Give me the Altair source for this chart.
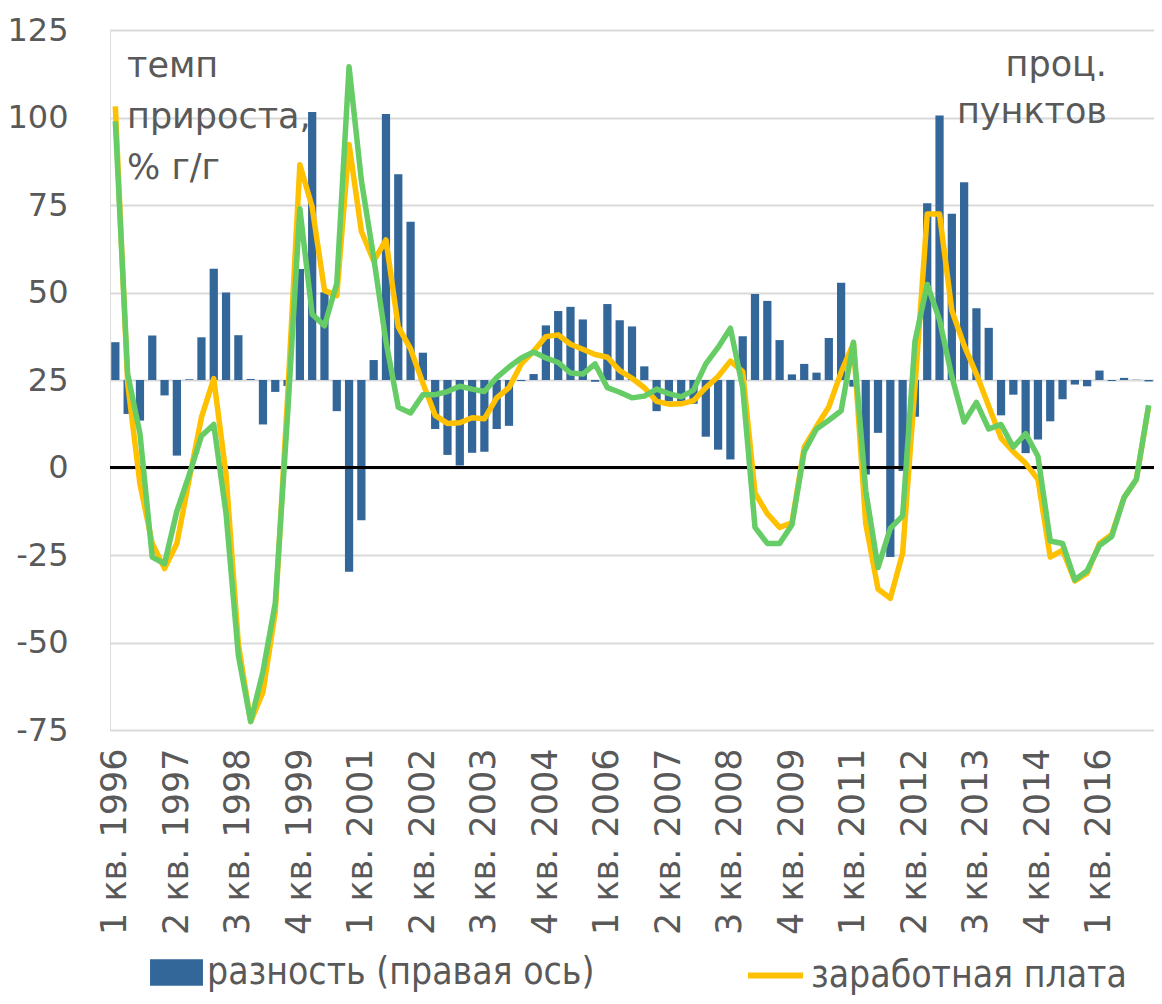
import altair as alt
import pandas as pd

years = list(range(1996, 2018))
quarters = [f"{q} кв. {y}" for y in years for q in (1, 2, 3, 4)][:85]
tick_labels = quarters[::5]

# разность (правая ось), проц. пунктов
diff = [10.8, -9.7, -11.6, 12.7, -4.4, -21.6, 0.2, 12.2, 31.8, 25.0,
        12.8, 0.3, -12.7, -3.4, -1.7, 31.7, 76.6, 25.1, -8.9, -54.8,
        -40.1, 5.7, 76.0, 58.8, 45.2, 7.8, -14.0, -21.4, -24.4, -20.8,
        -20.5, -14.0, -13.1, -0.3, 1.7, 15.6, 19.7, 20.9, 17.3, -0.5,
        21.7, 17.1, 15.3, 3.9, -8.9, -6.1, -6.1, -6.8, -16.2, -19.9,
        -22.7, 12.5, 24.6, 22.6, 11.4, 1.6, 4.6, 2.1, 12.0, 27.8,
        -1.9, -27.0, -15.1, -50.6, -26.0, -10.5, 50.5, 75.6, 47.5, 56.5,
        20.5, 14.9, -10.1, -4.2, -20.9, -17.0, -11.8, -5.5, -1.3, -1.8,
        2.7, -0.3, 0.6, 0.1, -0.4]

# заработная плата, темп прироста % г/г
wage = [103.2, 24.1, -4.7, -21.7, -28.9, -21.7, -3.4, 14.3, 25.4, -2.1,
        -50.4, -72.6, -64.2, -41.3, 20.0, 86.5, 74.4, 50.6, 49.1, 92.3,
        67.5, 59.0, 65.0, 40.2, 33.9, 24.1, 14.9, 12.6, 12.8, 14.2,
        13.9, 19.9, 22.8, 29.6, 33.2, 37.4, 37.9, 35.2, 33.8, 32.3,
        31.5, 27.7, 25.5, 22.8, 18.9, 18.1, 18.2, 19.1, 22.8, 26.0,
        30.4, 27.4, -7.3, -13.2, -17.1, -15.8, 5.8, 11.7, 17.3, 27.2,
        35.5, -16.0, -34.7, -37.4, -24.5, 23.0, 72.4, 72.4, 44.9, 34.9,
        26.7, 17.5, 8.4, 4.5, 1.2, -3.4, -25.6, -23.6, -32.4, -30.2,
        -21.7, -19.1, -8.6, -3.4, 17.5]

# второй ряд (зелёная линия), темп прироста % г/г
other = [98.9, 26.7, 9.7, -25.6, -27.5, -12.5, -2.1, 9.0, 12.3, -13.2,
         -53.7, -72.6, -58.3, -38.7, 15.0, 73.9, 43.8, 40.5, 52.6, 114.5,
         82.0, 60.0, 36.0, 17.2, 15.6, 20.8, 20.8, 21.7, 23.2, 22.4,
         21.7, 25.7, 28.7, 31.3, 33.0, 31.3, 30.0, 27.0, 26.7, 29.6,
         22.8, 21.5, 19.9, 20.4, 22.4, 21.1, 20.2, 22.1, 29.6, 34.3,
         39.8, 22.8, -17.1, -21.7, -21.7, -16.4, 4.5, 11.0, 13.5, 16.2,
         35.8, -6.6, -28.6, -17.4, -13.8, 36.0, 52.3, 42.2, 26.0, 13.0,
         18.6, 11.0, 12.3, 5.8, 9.7, 3.2, -21.0, -21.7, -32.1, -29.5,
         -22.3, -19.7, -8.6, -3.4, 17.8]

left_ticks = [-75, -50, -25, 0, 25, 50, 75, 100, 125]
note_left = ["темп", "прироста,", "% г/г"]
note_right = ["проц.", "пунктов"]
bar_name = "разность (правая ось)"
wage_name = "заработная плата"

df = pd.DataFrame({
    "q": quarters, "diff": diff, "wage": wage, "other": other,
    "bar_series": [bar_name] * len(quarters),
    "wage_series": [wage_name] * len(quarters),
})

GRAY = "#595959"
AXFONT = "DejaVu Sans"
LEGFONT = "'DejaVu Sans Condensed', 'Liberation Sans Narrow', 'Noto Sans', sans-serif"

xenc = alt.X(
    "q:N", sort=quarters, title=None,
    scale=alt.Scale(paddingInner=0.33, paddingOuter=0.1),
    axis=alt.Axis(values=tick_labels, labelAngle=-90, labelFont=AXFONT,
                  labelFontSize=35, labelColor=GRAY, labelPadding=18,
                  ticks=False, tickSize=0, domain=False, grid=False,
                  labelOverlap=False, labelLimit=0),
)

yscale = alt.Scale(domain=[-75, 125], nice=False, zero=False)
yaxis = alt.Axis(orient="left", values=left_ticks, title=None,
                 labelExpr="datum.value < 0 ? '-' + abs(datum.value) : '' + datum.value",
                 labelFont=AXFONT, labelFontSize=32, labelColor=GRAY,
                 labelPadding=42, ticks=False, tickSize=0, domain=False,
                 grid=True, gridColor="#D9D9D9", gridWidth=2)

bars = alt.Chart(df).mark_bar().encode(
    x=xenc,
    y=alt.Y("diff:Q", scale=alt.Scale(domain=[-100, 100], nice=False, zero=True), axis=None),
    fill=alt.Fill("bar_series:N",
                  scale=alt.Scale(domain=[bar_name], range=["#336699"]),
                  legend=alt.Legend(orient="none", legendX=40, legendY=916, title=None,
                                    symbolType="M-1,-0.5H1V0.5H-1Z", symbolSize=2800,
                                    symbolStrokeWidth=0, labelFont=LEGFONT,
                                    labelFontSize=37, labelColor=GRAY, labelOffset=4,
                                    labelLimit=0, padding=0)),
)

zero = alt.Chart(df).mark_rule(color="black", strokeWidth=1.75).encode(
    y=alt.datum(0, scale=yscale, axis=yaxis)
)

orange = alt.Chart(df).mark_line(strokeWidth=5.5, strokeJoin="round").encode(
    x=xenc,
    y=alt.Y("wage:Q", scale=yscale, axis=yaxis),
    stroke=alt.Stroke("wage_series:N",
                      scale=alt.Scale(domain=[wage_name], range=["#FFC000"]),
                      legend=alt.Legend(orient="none", legendX=635, legendY=915, title=None,
                                        symbolType="stroke", symbolSize=3025,
                                        symbolStrokeWidth=6, labelFont=LEGFONT,
                                        labelFontSize=37, labelColor=GRAY, labelOffset=5,
                                        labelLimit=0, padding=0)),
)

green = alt.Chart(df).mark_line(strokeWidth=5.5, strokeJoin="round", color="#66CC66").encode(
    x=xenc,
    y=alt.Y("other:Q", scale=yscale, axis=yaxis),
)

one = pd.DataFrame({"k": [0]})
txt_left = alt.Chart(one).mark_text(
    text=note_left, align="left", baseline="alphabetic", lineHeight=51,
    font=AXFONT, fontSize=35, color=GRAY,
).encode(x=alt.value(17), y=alt.value(47))

txt_right = alt.Chart(one).mark_text(
    text=note_right, align="right", baseline="alphabetic", lineHeight=47,
    font=AXFONT, fontSize=35, color=GRAY,
).encode(x=alt.value(997), y=alt.value(46))

inner = alt.layer(zero, orange, green, txt_left, txt_right)

chart = alt.layer(bars, inner).resolve_scale(y="independent").properties(
    width=1044, height=700,
    autosize=alt.AutoSizeParams(type="none"),
    padding={"left": 102, "top": 22, "right": 0, "bottom": 266},
).configure_view(stroke=None).configure(font=AXFONT)

chart.save("out.html", embed_options={"renderer": "svg", "actions": False})
